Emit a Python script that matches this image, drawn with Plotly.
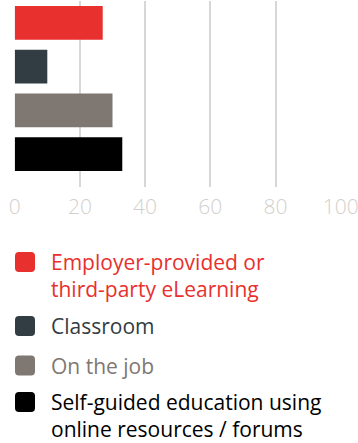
import plotly.graph_objects as go

# Training channels and share of respondents (%)
categories = [
    "Employer-provided or third-party eLearning",
    "Classroom",
    "On the job",
    "Self-guided education using online resources / forums",
]
legend_labels = [
    "Employer-provided or<br>third-party eLearning",
    "Classroom",
    "On the job",
    "Self-guided education using<br>online resources / forums",
]
values = [27, 10, 30, 33]
colors = ["#e8302e", "#323c43", "#7f7771", "#000000"]
tick_values = [0, 20, 40, 60, 80, 100]

W, H = 358, 443
FONT = "Open Sans"

fig = go.Figure()
fig.add_trace(go.Bar(
    x=values,
    y=list(range(len(categories))),
    orientation="h",
    marker=dict(color=colors, line=dict(width=0)),
    width=0.77,
    hovertext=categories,
    showlegend=False,
))


def px(x):
    return x / W


def py(y):
    return 1 - y / H


# Legend built from the series colours and labels
sq = 20
sq_x0 = 15
text_x = 50
centers = [262, 326, 365.5, 402]
line_h = 27
shapes = []
annotations = []
for label, col, cy in zip(legend_labels, colors, centers):
    y0 = cy - sq / 2
    y1 = cy + sq / 2
    r = 4
    x0, x1 = sq_x0, sq_x0 + sq
    path = (
        f"M {px(x0 + r)},{py(y0)} L {px(x1 - r)},{py(y0)} "
        f"Q {px(x1)},{py(y0)} {px(x1)},{py(y0 + r)} "
        f"L {px(x1)},{py(y1 - r)} Q {px(x1)},{py(y1)} {px(x1 - r)},{py(y1)} "
        f"L {px(x0 + r)},{py(y1)} Q {px(x0)},{py(y1)} {px(x0)},{py(y1 - r)} "
        f"L {px(x0)},{py(y0 + r)} Q {px(x0)},{py(y0)} {px(x0 + r)},{py(y0)} Z"
    )
    shapes.append(dict(type="path", xref="paper", yref="paper", path=path,
                       fillcolor=col, line=dict(width=0)))
    n_lines = label.count("<br>") + 1
    block_center = cy + (n_lines - 1) * line_h / 2
    annotations.append(dict(
        x=px(text_x), y=py(block_center), xref="paper", yref="paper",
        xanchor="left", yanchor="middle", align="left", showarrow=False,
        borderpad=0,
        text=label, font=dict(color=col, size=21, family=FONT),
    ))

fig.update_layout(
    width=W, height=H,
    margin=dict(l=0, r=0, t=0, b=0, autoexpand=False),
    paper_bgcolor="white", plot_bgcolor="white",
    shapes=shapes, annotations=annotations,
    xaxis=dict(
        domain=[14.7 / W, 340.7 / W],
        range=[0, 100],
        tickvals=tick_values,
        ticktext=[str(v) for v in tick_values],
        showgrid=True, gridcolor="#d9d7d5", gridwidth=1.5,
        zeroline=False, showline=False,
        tickfont=dict(color="#d3cfcb", size=21, family=FONT, weight=300),
        ticks="", ticklabelstandoff=5,
        ticklabeloverflow="allow",
        automargin=False,
        fixedrange=True,
    ),
    yaxis=dict(
        domain=[1 - 187 / H, 1 - 1 / H],
        range=[3.75, -0.5],
        showticklabels=False, showgrid=False, zeroline=False,
        automargin=False,
        fixedrange=True,
    ),
)

fig.write_html("out.html")
